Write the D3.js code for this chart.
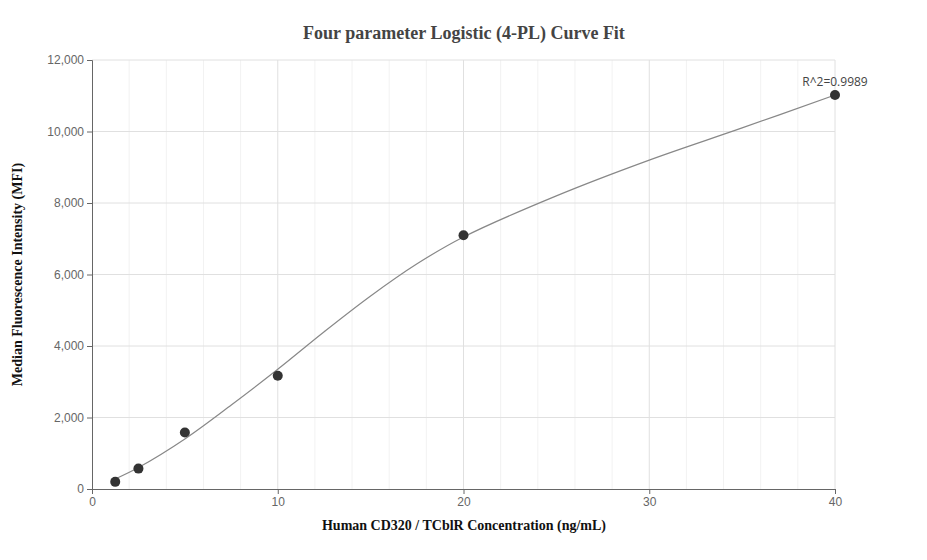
<!DOCTYPE html>
<html><head><meta charset="utf-8">
<script src="https://cdn.jsdelivr.net/npm/d3@7"></script>
<style>body{margin:0;background:#fff}</style>
</head><body><div id="chart"></div>
<script>
// Measured points
const conc = [1.25, 2.5, 5, 10, 20, 40];
const mfi = [200, 570, 1580, 3170, 7100, 11020];
// Fitted curve
const curveX = [1.25, 2.5, 5, 7.5, 10, 12.5, 15, 17.5, 20, 25, 30, 35, 40];
const curveY = [280, 600, 1400, 2350, 3350, 4400, 5400, 6300, 7050, 8200, 9200, 10100, 11020];
const xTicks = [0, 10, 20, 30, 40];
const yTicks = [0, 2000, 4000, 6000, 8000, 10000, 12000];

const width = 927, height = 560;
const margin = { top: 60, right: 92, bottom: 71, left: 92 };

const x = d3.scaleLinear().domain([0, 40]).range([margin.left, width - margin.right]);
const y = d3.scaleLinear().domain([0, 12000]).range([height - margin.bottom, margin.top]);

const svg = d3.select("#chart").append("svg")
    .attr("width", width).attr("height", height)
    .style("font-family", "'Open Sans', sans-serif");

// Grid
svg.append("g").selectAll("line")
    .data(d3.range(2, 41, 2))
    .join("line")
    .attr("x1", d => x(d)).attr("x2", d => x(d))
    .attr("y1", y(0)).attr("y2", y(12000))
    .attr("stroke", d => d % 10 === 0 ? "#e0e0e0" : "#f2f2f2");
svg.append("g").selectAll("line")
    .data(yTicks.slice(1))
    .join("line")
    .attr("x1", x(0)).attr("x2", x(40))
    .attr("y1", d => y(d)).attr("y2", d => y(d))
    .attr("stroke", "#e0e0e0");

// Axes
svg.append("g")
    .attr("transform", `translate(0,${y(0)})`)
    .call(d3.axisBottom(x).tickValues(xTicks).tickSize(5))
    .call(g => g.selectAll("path,line").attr("stroke", "#666"))
    .call(g => g.selectAll("text").attr("fill", "#666").style("font-size", "12px"));
svg.append("g")
    .attr("transform", `translate(${x(0)},0)`)
    .call(d3.axisLeft(y).tickValues(yTicks).tickSize(5).tickFormat(d3.format(",")))
    .call(g => g.selectAll("path,line").attr("stroke", "#666"))
    .call(g => g.selectAll("text").attr("fill", "#666").style("font-size", "12px"));

// Curve
svg.append("path")
    .datum(curveX.map((d, i) => [d, curveY[i]]))
    .attr("fill", "none").attr("stroke", "#888").attr("stroke-width", 1.2)
    .attr("d", d3.line().x(d => x(d[0])).y(d => y(d[1])).curve(d3.curveCatmullRom));

// Points
svg.append("g").selectAll("circle")
    .data(conc.map((d, i) => [d, mfi[i]]))
    .join("circle")
    .attr("cx", d => x(d[0])).attr("cy", d => y(d[1]))
    .attr("r", 5).attr("fill", "#333");

svg.append("text")
    .attr("x", x(40)).attr("y", y(11020) - 9)
    .attr("text-anchor", "middle").attr("fill", "#444").style("font-size", "12px")
    .text("R^2=0.9989");

// Titles
svg.append("text")
    .attr("x", 464).attr("y", 39).attr("text-anchor", "middle")
    .style("font-family", "'Liberation Serif', serif").style("font-weight", "bold")
    .style("font-size", "18px").attr("fill", "#444")
    .text("Four parameter Logistic (4-PL) Curve Fit");
svg.append("text")
    .attr("x", 464).attr("y", 530).attr("text-anchor", "middle")
    .style("font-family", "'Liberation Serif', serif").style("font-weight", "bold")
    .style("font-size", "14px").attr("fill", "#111")
    .text("Human CD320 / TCblR Concentration (ng/mL)");
svg.append("text")
    .attr("transform", `translate(22,${(y(0) + y(12000)) / 2}) rotate(-90)`)
    .attr("text-anchor", "middle")
    .style("font-family", "'Liberation Serif', serif").style("font-weight", "bold")
    .style("font-size", "14px").attr("fill", "#111")
    .text("Median Fluorescence Intensity (MFI)");
</script></body></html>
